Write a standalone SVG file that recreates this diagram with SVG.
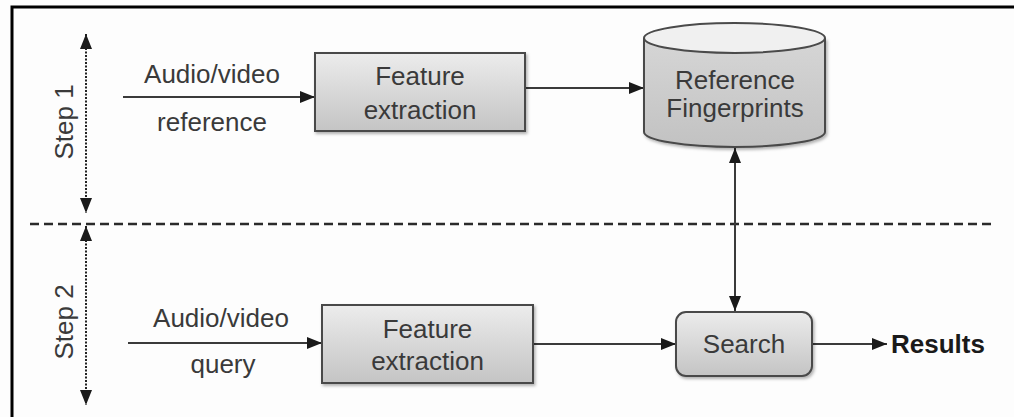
<svg xmlns="http://www.w3.org/2000/svg" width="1014" height="417" viewBox="0 0 1014 417">
  <style>
    .lbl { font-family: "Liberation Sans", Arial, sans-serif; font-size: 26px; fill: #3a3a3a; text-anchor: middle; }
    .bold { font-weight: bold; fill: #1a1a1a; text-anchor: start; }
    .box { fill: url(#boxGrad); stroke: #4a4a4a; stroke-width: 2; filter: url(#shadow); }
    .edge { fill: none; stroke: #3a3a3a; stroke-width: 2; }
    .step { fill: none; stroke: #222; stroke-width: 2; stroke-dasharray: 2 1.5; }
  </style>
  <defs>
    <linearGradient id="boxGrad" x1="0" y1="0" x2="0" y2="1">
      <stop offset="0" stop-color="#ececec"/>
      <stop offset="1" stop-color="#c4c4c4"/>
    </linearGradient>
    <linearGradient id="cylGrad" x1="0" y1="0" x2="0" y2="1">
      <stop offset="0" stop-color="#d6d6d6"/>
      <stop offset="1" stop-color="#c2c2c2"/>
    </linearGradient>
    <filter id="shadow" x="-10%" y="-10%" width="125%" height="130%">
      <feDropShadow dx="1.5" dy="2" stdDeviation="1.5" flood-color="#000" flood-opacity="0.3"/>
    </filter>
    <marker id="arrowM" viewBox="0 0 10 10" refX="10" refY="5" markerWidth="15" markerHeight="15" markerUnits="userSpaceOnUse" orient="auto-start-reverse">
      <path d="M0,1 L10,5 L0,9 z" fill="#1a1a1a"/>
    </marker>
  </defs>

  <rect width="1014" height="417" fill="#fdfdfd"/>
  <!-- frame: top and left rules -->
  <path d="M12,417 V7 H1014" fill="none" stroke="#000" stroke-width="3"/>

  <!-- step separator -->
  <line x1="30" y1="224" x2="993" y2="224" stroke="#2a2a2a" stroke-width="2.5" stroke-dasharray="9 5"/>

  <g id="step1">
    <line class="step" x1="86" y1="34" x2="86" y2="213" marker-start="url(#arrowM)" marker-end="url(#arrowM)"/>
    <text class="lbl" transform="translate(73,122) rotate(-90)">Step 1</text>
  </g>
  <g id="step2">
    <line class="step" x1="86" y1="226" x2="86" y2="405" marker-start="url(#arrowM)" marker-end="url(#arrowM)"/>
    <text class="lbl" transform="translate(73,322) rotate(-90)">Step 2</text>
  </g>

  <g id="connectors">
    <line class="edge" x1="123" y1="97" x2="315" y2="97" marker-end="url(#arrowM)"/>
    <line class="edge" x1="525" y1="88" x2="644" y2="88" marker-end="url(#arrowM)"/>
    <line class="edge" x1="735" y1="148" x2="735" y2="311" marker-start="url(#arrowM)" marker-end="url(#arrowM)"/>
    <line class="edge" x1="128" y1="343" x2="322" y2="343" marker-end="url(#arrowM)"/>
    <line class="edge" x1="533" y1="344" x2="676" y2="344" marker-end="url(#arrowM)"/>
    <line class="edge" x1="812" y1="344" x2="887" y2="344" marker-end="url(#arrowM)"/>
  </g>

  <g id="input-reference">
    <text class="lbl" x="212" y="83">Audio/video</text>
    <text class="lbl" x="212" y="131">reference</text>
  </g>

  <g id="feature-extraction-1">
    <rect class="box" x="315" y="53" width="210" height="78"/>
    <text class="lbl" x="420" y="85">Feature</text>
    <text class="lbl" x="420" y="119">extraction</text>
  </g>

  <g id="reference-fingerprints">
    <path d="M644,38 V132 A90.5,15 0 0 0 825,132 V38" fill="url(#cylGrad)" stroke="#4a4a4a" stroke-width="2" filter="url(#shadow)"/>
    <ellipse cx="734.5" cy="38" rx="90.5" ry="15" fill="#f0f0f0" stroke="#4a4a4a" stroke-width="2"/>
    <text class="lbl" x="735" y="89">Reference</text>
    <text class="lbl" x="735" y="117">Fingerprints</text>
  </g>

  <g id="input-query">
    <text class="lbl" x="221" y="327">Audio/video</text>
    <text class="lbl" x="223" y="373">query</text>
  </g>

  <g id="feature-extraction-2">
    <rect class="box" x="322" y="305" width="211" height="78"/>
    <text class="lbl" x="427.5" y="338">Feature</text>
    <text class="lbl" x="427.5" y="370">extraction</text>
  </g>

  <g id="search">
    <rect class="box" x="676" y="312" width="136" height="64" rx="10"/>
    <text class="lbl" x="744" y="353">Search</text>
  </g>

  <g id="results">
    <text class="lbl bold" x="891" y="353">Results</text>
  </g>
</svg>
